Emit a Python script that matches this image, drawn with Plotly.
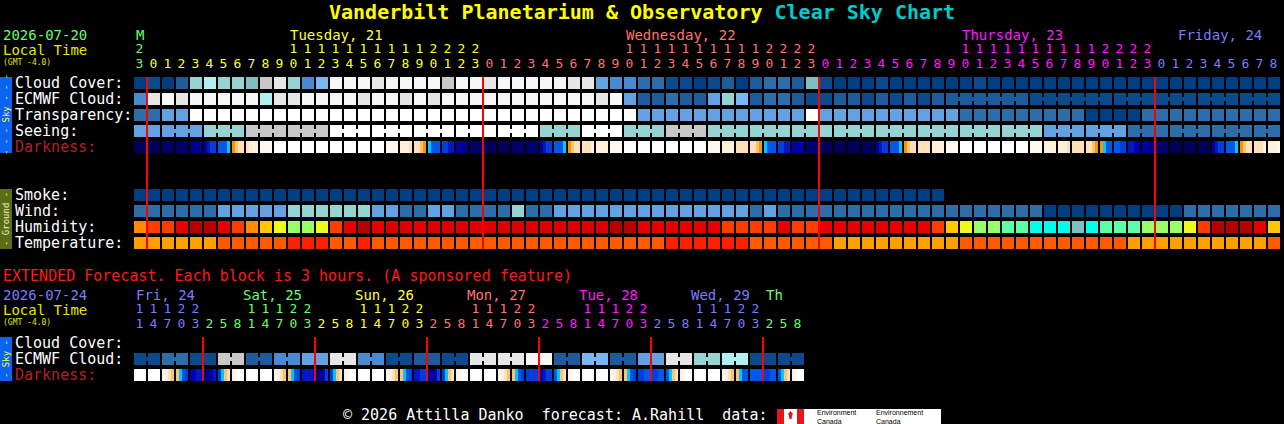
import plotly.graph_objects as go

W, H = 1284, 424
MONO = "DejaVu Sans Mono"

# ---------------- hourly chart (Mon 23h .. Fri 8h, local time) ----------------
hours = [23] + list(range(24)) * 3 + list(range(9))
day_titles = ["M", "Tuesday, 21", "Wednesday, 22", "Thursday, 23", "Friday, 24"]
day_colors = ["#66ff66", "#ffff33", "#ff7373", "#ff1aff", "#7b7bff"]

# colour index into sky_palette (dark blue = clear ... white = overcast)
sky_palette = ["#003f7f", "#0d4a8a", "#1d5b9b", "#2e6ea8", "#4a8ad0", "#63a1e0",
               "#7ab6f0", "#96d4d4", "#7fbfbf", "#b0f0f0", "#c8c8c8", "#e6e6e6",
               "#f6f6f6", "#ffffff"]

cloud = [0, 1, 0, 2, 7, 9, 7, 7, 8, 10, 11, 7, 4, 6, 12, 12, 12, 11, 12, 12, 12,
         12, 10, 12, 12, 11, 12, 12, 12, 12, 12, 11, 11, 5, 4, 4, 3, 3, 1, 1, 0,
         1, 2, 0, 2, 3, 3, 2, 8, 1, 0,
         0, 0, 1, 0, 0, 0, 0, 0, 0, 1, 0, 0, 0, 0, 0, 0, 0, 0, 0, 0, 0, 0, 0, 0,
         0, 0, 0, 0, 0, 0, 0]

# hourly up to Thu 8h, then longer ECMWF blocks
ecmwf = [4, 11, 12, 11, 12, 12, 12, 12, 12, 9, 11, 11, 12, 12, 12, 12, 11, 12, 12, 11, 12,
         11, 12, 12, 12, 12, 12, 12, 12, 12, 12, 12, 12, 11, 12, 5, 2, 2, 3, 2, 2,
         5, 7, 6, 2, 3, 3, 2, 1, 1, 2,
         2, 1, 2, 1, 2, 1, 2,
         2, 1, 1, 1, 1, 1]
ecmwf_span = [1] * 58 + [6, 6, 3, 3, 3, 3]

transparency = [3, 3, 5, 5, 13, 13, 13, 13, 13, 13, 13, 13, 13, 13, 13, 13, 13, 13, 13, 13, 13,
                13, 13, 13, 13, 13, 13, 13, 13, 13, 13, 13, 13, 13, 13, 13, 5, 5, 5, 5, 5,
                5, 5, 5, 5, 5, 5, 5, 13, 5, 5,
                5, 5, 5, 5, 5, 5, 5, 5, 3, 3, 3, 3, 3, 3, 3, 3, 3, 0, 0, 0, 0, 3, 3, 3,
                3, 3, 3, 3, 3, 3, 3]

# seeing comes in 3-hour blocks
seeing = [5, 5, 7, 10, 10, 13, 13, 13, 13, 13, 7, 13, 7, 10, 7, 7, 7, 7, 7, 7,
          7, 7, 5, 5, 3, 3, 3, 3]
seeing_span = [2] + [3] * 26 + [2]

smoke = [0, 0, 0, 0, 0, 0, 0, 0, 0, 0, 0, 0, 0, 0, 0, 0, 0, 0, 0, 0, 0,
         0, 0, 0, 0, 0, 0, 0, 0, 0, 0, 0, 0, 0, 0, 0, 0, 0, 0, 0, 0,
         0, 0, 0, 0, 0, 0, 0, 0, 0, 0,
         0, 0, 0, 0, 0, 0, 0, None, None, None, None, None, None, None, None,
         None, None, None, None, None, None, None, None, None, None, None, None,
         None, None, None, None]

wind = [3, 3, 3, 3, 3, 3, 5, 5, 5, 5, 5, 7, 7, 7, 7, 7, 7, 5, 5, 3, 3,
        5, 5, 3, 3, 3, 3, 7, 3, 3, 5, 5, 5, 5, 5, 5, 5, 5, 5, 5, 5,
        5, 5, 5, 3, 5, 3, 3, 3, 3, 3,
        3, 3, 3, 3, 3, 3, 3, 3, 3, 3, 3, 3, 3, 3, 0, 0, 0, 0, 0, 0, 0, 0, 0, 0,
        3, 3, 3, 3, 3, 3, 3]

humid_palette = ["#b40000", "#dc0000", "#e80000", "#ff3c00", "#ff8c00", "#ffc800",
                 "#ecfc18", "#99ff66", "#5cffa8", "#00ffe8", "#7fbfbf"]
humidity = [4, 3, 3, 2, 0, 0, 2, 3, 4, 5, 6, 7, 7, 6, 3, 2, 0, 2, 1, 1, 2,
            1, 1, 1, 1, 1, 1, 1, 1, 1, 1, 1, 1, 1, 0, 0, 2, 2, 2, 2, 2,
            2, 3, 3, 3, 3, 2, 3, 3, 2, 2,
            2, 2, 2, 2, 2, 2, 3, 5, 6, 7, 7, 8, 8, 9, 9, 9, 10, 9, 8, 8, 8, 7, 7, 7,
            6, 3, 0, 0, 0, 2, 5]

temp_palette = ["#ffa000", "#ff5a00", "#ff2000"]
temperature = [0, 0, 0, 0, 0, 0, 1, 1, 1, 1, 1, 2, 2, 2, 1, 1, 2, 1, 1, 1, 1,
               1, 1, 1, 1, 1, 1, 1, 1, 1, 1, 1, 1, 1, 1, 1, 1, 1, 2, 2, 2,
               2, 2, 2, 1, 1, 1, 1, 1, 1, 0,
               0, 0, 0, 0, 0, 0, 0, 0, 1, 1, 1, 1, 1, 1, 1, 1, 1, 1, 1, 1, 0, 0, 0, 0,
               0, 0, 0, 0, 0, 0, 1]

# darkness: each hour block = 4 quarter shades, hex index into dark_palette
dark_palette = ["#000048", "#000058", "#000068", "#000088", "#0000a8", "#0018c0",
                "#0040d8", "#0058e8", "#00c8ff", "#f09800", "#ffc070", "#ffe0b8",
                "#fff0dc", "#fff8f0", "#ffffff"]
darkness = ["1111", "1111", "2222", "2222", "3333", "4566", "7778", "9abb", "bccc", "dddd",
            "eeee", "eeee", "eeee", "eeee", "eeee", "eeee", "eeee", "eeee", "dddd", "cccb", "bba9",
            "8777", "6655", "4433", "2222", "1111", "1111", "2222", "2222", "4566", "7778",
            "9abb", "bbbc", "cccc", "dddd", "eeee", "eeee", "eeee", "eeee", "eeee", "eeee",
            "dddd", "cccc", "bbbb", "bba9", "8777", "6655", "4444", "2222", "1111", "1111",
            "1111", "1111", "4566", "7778", "9abb", "bbbb", "cccc", "dddd", "eeee", "eeee",
            "eeee", "eeee", "eeee", "dddd", "cccc", "cccb", "bbbb", "bba9", "9877", "7766",
            "5544", "4433", "2222", "1111", "1111", "1111", "4566", "7778", "9abb", "bbbc", "cccd"]

# ---------------- extended forecast (3-hour blocks) ----------------
ext_hours = [11, 14, 17, 20, 23] + [2, 5, 8, 11, 14, 17, 20, 23] * 5 + [2, 5, 8]
ext_days = ["Fri, 24", "Sat, 25", "Sun, 26", "Mon, 27", "Tue, 28", "Wed, 29", "Th"]
ext_day_colors = ["#7b7bff", "#66ff66", "#ffff33", "#ff7373", "#ff1aff", "#7b7bff", "#66ff66"]
ext_ecmwf = [1, 3, 1, 10, 2, 4, 5, 11, 4, 1, 2, 1, 11, 11, 12, 2, 6, 2, 5, 11, 7, 9, 1, 1]
ext_ecmwf_span = [2] * 24
ext_darkness = ["eeee", "eeee", "dcba", "a876", "4455",
                "2345", "68ab", "cdee", "eeee", "eeee", "dcba", "a876", "5555",
                "2346", "68ab", "cdee", "eeee", "eeee", "dcba", "a876", "5566",
                "3346", "68ab", "cdee", "eeee", "eeee", "dcba", "a876", "6666",
                "4566", "78ab", "cdee", "eeee", "eeee", "dcba", "a876", "6677",
                "6677", "78ab", "cdee", "eeee", "eeee", "dcba", "a877", "7777",
                "6677", "78ab", "cdee"]

# ---------------- layout (pixel rows) ----------------
ROW = dict(cloud=83, ecmwf=99, transp=115, seeing=131, dark=147,
           smoke=195, wind=211, humid=227, temp=243)
EXT = dict(cloud=343, ecmwf=359, dark=375)

fig = go.Figure()


def discrete(colors):
    n = len(colors)
    scale = []
    for i, c in enumerate(colors):
        scale += [[i / n, c], [(i + 1) / n, c]]
    return scale


def add_blocks(vals, spans, yc, palette):
    cols = []
    for v, s in zip(vals, spans):
        cols += [v] * s
    common = dict(colorscale=discrete(palette), zmin=-0.5, zmax=len(palette) - 0.5,
                  showscale=False, hoverinfo="skip", xgap=2)
    fig.add_trace(go.Heatmap(x=list(range(len(cols) + 1)), y=[yc - 6, yc + 6],
                             z=[cols], **common))
    if any(s > 1 for s in spans):
        edges = [0]
        for s in spans:
            edges.append(edges[-1] + s)
        zc = [v if s > 1 else None for v, s in zip(vals, spans)]
        fig.add_trace(go.Heatmap(x=edges, y=[yc - 2, yc + 2], z=[zc], **common))


def add_darkness(codes, yc):
    xs, zs = [], []
    for c, code in enumerate(codes):
        for k, ch in enumerate(code):
            xs.append(c + (1 + 3 * k) / 14)
            zs.append(int(ch, 16))
        xs.append(c + 13 / 14)
        zs.append(None)
    xs.append(len(codes) + 1 / 14)
    fig.add_trace(go.Heatmap(x=xs, y=[yc - 6, yc + 6], z=[zs],
                             colorscale=discrete(dark_palette), zmin=-0.5,
                             zmax=len(dark_palette) - 0.5, showscale=False,
                             hoverinfo="skip"))


def ones(n):
    return [1] * n


add_blocks(cloud, ones(len(cloud)), ROW["cloud"], sky_palette)
add_blocks(ecmwf, ecmwf_span, ROW["ecmwf"], sky_palette)
add_blocks(transparency, ones(len(transparency)), ROW["transp"], sky_palette)
add_blocks(seeing, seeing_span, ROW["seeing"], sky_palette)
add_darkness(darkness, ROW["dark"])
add_blocks(smoke, ones(len(smoke)), ROW["smoke"], sky_palette)
add_blocks(wind, ones(len(wind)), ROW["wind"], sky_palette)
add_blocks(humidity, ones(len(humidity)), ROW["humid"], humid_palette)
add_blocks(temperature, ones(len(temperature)), ROW["temp"], temp_palette)

add_blocks(ext_ecmwf, ext_ecmwf_span, EXT["ecmwf"], sky_palette)
add_darkness(ext_darkness, EXT["dark"])


def day_index(hrs):
    idx, d = [], 0
    for i, h in enumerate(hrs):
        if i > 0 and h < hrs[i - 1]:
            d += 1
        idx.append(d)
    return idx


def hour_header(hrs, colors, y_tens, y_units):
    di = day_index(hrs)
    col = [colors[d] for d in di]
    xs = [c + 0.45 for c in range(len(hrs))]
    fig.add_trace(go.Scatter(x=xs, y=[y_units] * len(hrs), mode="text",
                             text=[str(h % 10) for h in hrs],
                             textfont=dict(family=MONO, size=13, color=col),
                             hoverinfo="skip", showlegend=False))
    tx = [x for x, h in zip(xs, hrs) if h >= 10]
    tc = [c for c, h in zip(col, hrs) if h >= 10]
    tt = [str(h // 10) for h in hrs if h >= 10]
    fig.add_trace(go.Scatter(x=tx, y=[y_tens] * len(tx), mode="text", text=tt,
                             textfont=dict(family=MONO, size=13, color=tc),
                             hoverinfo="skip", showlegend=False))


def midnight_lines(hrs, y0, y1):
    di = day_index(hrs)
    lx, ly = [], []
    for c in range(1, len(hrs)):
        if di[c] != di[c - 1]:
            lx += [c, c, None]
            ly += [y0, y1, None]
    fig.add_trace(go.Scatter(x=lx, y=ly, mode="lines", line=dict(color="#ff0000", width=2),
                             hoverinfo="skip", showlegend=False))


hour_header(hours, day_colors, 50, 65)
hour_header(ext_hours, ext_day_colors, 310, 325)
midnight_lines(hours, 77, 249)
midnight_lines(ext_hours, 337, 381)

anns = []


def text(t, x, y, color, size=15, xref="paper", bold=False, anchor="left"):
    if bold:
        t = "<b>" + t + "</b>"
    anns.append(dict(text=t, x=x / W if xref == "paper" else x, xref=xref, y=y, yref="y",
                     xanchor=anchor, yanchor="middle", showarrow=False,
                     font=dict(family=MONO, size=size, color=color)))


# title
anns.append(dict(text="<b>Vanderbilt Planetarium &amp; Observatory</b> "
                      "<span style='color:#00cccc'><b>Clear Sky Chart</b></span>",
                 x=0.5, xref="paper", y=12, yref="y", xanchor="center", yanchor="middle",
                 showarrow=False, font=dict(family=MONO, size=20, color="#ffff00")))

# left header
text("2026-07-20", 1, 35, "#66ff66", size=14)
text("Local Time", 1, 50, "#e6e600", size=14)
text("(GMT -4.0)", 1, 62, "#e6e600", size=8)
main_label_x = [0.05, 11.05, 35.05, 59.05, 74.5]
for t, x, c in zip(day_titles, main_label_x, day_colors):
    text(t, x, 35, c, size=14, xref="x")

# row labels
for t, key in [("Cloud Cover:", "cloud"), ("ECMWF Cloud:", "ecmwf"),
               ("Transparency:", "transp"), ("Seeing:", "seeing"),
               ("Smoke:", "smoke"), ("Wind:", "wind"), ("Humidity:", "humid"),
               ("Temperature:", "temp")]:
    text(t, 13, ROW[key], "#ffffff")
text("Darkness:", 13, ROW["dark"], "#b22222")

# extended header
text("EXTENDED\u00a0Forecast.\u00a0Each\u00a0block\u00a0is\u00a03\u00a0hours.\u00a0(A\u00a0sponsored\u00a0feature)",
     1, 276, "#ff1a1a")
text("2026-07-24", 1, 295, "#7b7bff", size=14)
text("Local Time", 1, 310, "#e6e600", size=14)
text("(GMT -4.0)", 1, 322, "#e6e600", size=8)
ext_label_x = [0.1, 7.7, 15.7, 23.7, 31.7, 39.7, 45.1]
for t, x, c in zip(ext_days, ext_label_x, ext_day_colors):
    text(t, x, 295, c, size=14, xref="x")
text("Cloud Cover:", 13, EXT["cloud"], "#ffffff")
text("ECMWF Cloud:", 13, EXT["ecmwf"], "#ffffff")
text("Darkness:", 13, EXT["dark"], "#b22222")

# footer
text("©\u00a02026\u00a0Attilla\u00a0Danko\u00a0\u00a0forecast:\u00a0A.Rahill\u00a0\u00a0data:",
     341, 415, "#ffffff")

# side tabs
shapes = []
for y0, y1, col, label, fcol in [(77, 153, "#0a64f0", "- - - Sky - - -", "#ffff33"),
                                 (189, 249, "#5c6c12", "- Ground -", "#f0f0d0"),
                                 (337, 381, "#0a64f0", "- Sky -", "#ffff33")]:
    shapes.append(dict(type="rect", xref="paper", yref="y", x0=0, x1=12 / W, y0=y0, y1=y1,
                       fillcolor=col, line=dict(width=0), layer="below"))
    anns.append(dict(text=label, x=6 / W, xref="paper", y=(y0 + y1) / 2, yref="y",
                     textangle=-90, showarrow=False, xanchor="center", yanchor="middle",
                     font=dict(family=MONO, size=9, color=fcol)))

# Environment Canada logo
shapes.append(dict(type="rect", xref="paper", yref="y", x0=777 / W, x1=941 / W, y0=409, y1=424,
                   fillcolor="#ffffff", line=dict(width=0)))
for a, b in [(777, 784), (797, 804)]:
    shapes.append(dict(type="rect", xref="paper", yref="y", x0=a / W, x1=b / W, y0=409, y1=424,
                       fillcolor="#e8141c", line=dict(width=0)))
shapes.append(dict(type="path", xref="paper", yref="y",
                   path="M %f,411 L %f,415 L %f,414 L %f,419 L %f,419 L %f,414 L %f,415 Z" % (
                       790.5 / W, 787 / W, 788.5 / W, 789.5 / W, 791.5 / W, 792.5 / W, 794 / W),
                   fillcolor="#e8141c", line=dict(width=0)))
for t, x in [("Environment<br>Canada", 815), ("Environnement<br>Canada", 874)]:
    anns.append(dict(text=t, x=x / W, xref="paper", y=416.5, yref="y", xanchor="left",
                     yanchor="middle", showarrow=False, align="left",
                     font=dict(family="Liberation Sans Narrow, Liberation Sans", size=7,
                               color="#000000")))

fig.update_layout(
    width=W, height=H, margin=dict(l=0, r=0, t=0, b=0),
    paper_bgcolor="#000000", plot_bgcolor="#000000",
    xaxis=dict(range=[-133 / 14, (W - 133) / 14], visible=False, fixedrange=True),
    yaxis=dict(range=[H, 0], visible=False, fixedrange=True),
    annotations=anns, shapes=shapes, showlegend=False,
)

fig.write_html("out.html", config={"displayModeBar": False},
               post_script="document.body.style.margin='0';")
